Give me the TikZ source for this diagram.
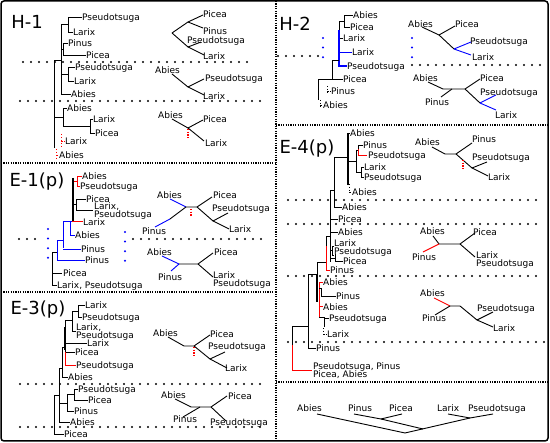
\documentclass[tikz,border=0pt]{standalone}
\usepackage{fontspec}
\setmainfont{DejaVu Sans}
\begin{document}
\begin{tikzpicture}[x=1pt,y=-1pt,
  lab/.style={anchor=base west, inner sep=0pt, font=\fontsize{9}{10}\selectfont, yshift=-3.2pt},
  ttl/.style={anchor=center, inner sep=0pt, font=\fontsize{18}{20}\selectfont},
  br/.style={line width=0.9pt},
  bb/.style={line width=0.9pt, blue},
  rr/.style={line width=0.9pt, red},
  kdash/.style={line width=0.9pt, dash pattern=on 1.5pt off 1.5pt},
  rdash/.style={line width=0.9pt, red, dash pattern=on 1.5pt off 1.5pt},
  rdot/.style={line width=1.3pt, red, dash pattern=on 1.5pt off 1.2pt},
  dense/.style={line width=1.4pt, dash pattern=on 1.2pt off 1.2pt},
  sparse/.style={line width=2.3pt, line cap=round, dash pattern=on 0pt off 8pt},
  bdots/.style={line width=2.3pt, line cap=round, blue, dash pattern=on 0pt off 9.6pt}]
\useasboundingbox (0,0) rectangle (550,443);
% frame
\draw[line width=1.5pt, rounded corners=3pt] (1,1) rectangle (548,441);
\draw[dense] (276,1) -- (276,441);
\draw[dense] (1,163) -- (276,163);
\draw[dense] (1,292) -- (276,292);
\draw[dense] (276,125) -- (548,125);
\draw[dense] (276,382) -- (548,382);

% ================= H-1 =================
\node[ttl] (tH1) at (27,22) {H-1};
\node[lab] (a01) at (82,17) {Pseudotsuga};
\node[lab] (a02) at (73,32) {Larix};
\node[lab] (a03) at (68,43) {Pinus};
\node[lab] (a04) at (86,55) {Picea};
\node[lab] (a05) at (75,67) {Pseudotsuga};
\node[lab] (a06) at (74,81) {Larix};
\node[lab] (a07) at (71,94) {Abies};
\node[lab] (a08) at (67,108) {Abies};
\node[lab] (a09) at (93,119) {Larix};
\node[lab] (a10) at (95,133) {Picea};
\node[lab] (a11) at (65,141) {Larix};
\node[lab] (a12) at (59,155) {Abies};
\draw[br] (82,17) -- (68,17) -- (68,32) -- (73,32);
\draw[br] (68,43) -- (63,43) -- (63,55) -- (86,55);
\draw[br] (68,24.5) -- (61,24.5) -- (61,94) -- (71,94);
\draw[br] (63,49) -- (61,49);
\draw[br] (75,67) -- (68,67) -- (68,81) -- (74,81);
\draw[br] (68,74) -- (61,74);
\draw[br] (61,60) -- (54,60) -- (54,148);
\draw[br] (67,108) -- (63,108) -- (63,126) -- (90,126);
\draw[br] (93,119) -- (90,119) -- (90,133) -- (95,133);
\draw[br] (63,117) -- (54,117);
\draw[rdash] (61,134) -- (61,147);
\draw[rdash] (61,141) -- (65,141);
\draw[rdash] (56,149) -- (56,161);
\draw[rdash] (56,155) -- (59,155);
\draw[sparse] (23,62) -- (250,62);
\draw[sparse] (20,101) -- (266,101);
% unrooted H-1
\node[lab] (a13) at (203,14) {Picea};
\node[lab] (a14) at (203,31) {Pinus};
\node[lab] (a15) at (187,40) {Pseudotsuga};
\node[lab] (a16) at (203,56) {Larix};
\draw[br] (172,33) -- (188,22) -- (203,15);
\draw[br] (188,22) -- (203,28);
\draw[br] (172,33) -- (188,47) -- (201,42);
\draw[br] (188,47) -- (204,55);
\node[lab] (a17) at (155,70) {Abies};
\node[lab] (a18) at (205,78) {Pseudotsuga};
\node[lab] (a19) at (203,96) {Larix};
\draw[br] (172,74) -- (188,87) -- (204,79);
\draw[br] (188,87) -- (204,95);
\node[lab] (a20) at (158,115) {Abies};
\node[lab] (a21) at (203,119) {Picea};
\node[lab] (a22) at (205,143) {Larix};
\draw[br] (172,119) -- (188,128) -- (203,120);
\draw[br] (188,128) -- (204,141);
\draw[rdot] (188,129) -- (188,138);

% ================= E-1 =================
\node[ttl] (tE1) at (37,182) {E-1(p)};
\node[lab] (b01) at (82,176) {Abies};
\node[lab] (b02) at (80,186) {Pseudotsuga};
\node[lab] (b03) at (86,199) {Picea};
\node[lab] (b04) at (94,206.5) {Larix,};
\node[lab] (b05) at (94,214.5) {Pseudotsuga};
\node[lab] (b06) at (83,222) {Larix};
\node[lab] (b07) at (75,235) {Abies};
\node[lab] (b08) at (81,249) {Pinus};
\node[lab] (b09) at (85,260) {Pinus};
\node[lab] (b10) at (63,273) {Picea};
\node[lab] (b11) at (57,285) {Larix, Pseudotsuga};
\draw[rr] (82,176) -- (77,176) -- (77,186) -- (80,186);
\draw[rr] (77,181) -- (73,181);
\draw[line width=1.4pt] (73,178) -- (73,221);
\draw[br] (86,199) -- (76,199) -- (76,210) -- (93,210);
\draw[br] (76,204) -- (73,204);
\draw[bb] (63,248) -- (63,221) -- (72,221);
\draw[bb] (70,221) -- (70,235) -- (75,235);
\draw[rr] (72,221) -- (83,221);
\draw[bb] (63,249) -- (81,249);
\draw[bb] (63,240) -- (57,240) -- (57,260) -- (85,260);
\draw[br] (57,252) -- (52,252) -- (52,285) -- (57,285);
\draw[br] (52,273) -- (62,273);
\draw[bdots] (48,229) -- (48,259);
\draw[bdots] (125,232) -- (125,261);
\draw[sparse] (19,239) -- (42,239);
\draw[sparse] (133,239) -- (266,239);
% unrooted E-1
\node[lab] (b12) at (157,195) {Abies};
\node[lab] (b13) at (142,231) {Pinus};
\node[lab] (b14) at (213,195) {Picea};
\node[lab] (b15) at (212,208) {Pseudotsuga};
\node[lab] (b16) at (229,229) {Larix};
\draw[bb] (170,199) -- (186,207);
\draw[bb] (155,227) -- (170,219);
\draw[br] (170,219) -- (186,207) -- (197,207) -- (212,197);
\draw[br] (197,207) -- (213,221) -- (228,213);
\draw[br] (213,221) -- (229,229);
\draw[rdot] (191,209) -- (191,217);
\node[lab] (b17) at (147,252) {Abies};
\node[lab] (b18) at (158,277) {Pinus};
\node[lab] (b19) at (214,252) {Picea};
\node[lab] (b20) at (213,275) {Larix};
\node[lab] (b21) at (213,283) {Pseudotsuga};
\draw[bb] (162,256) -- (179,264);
\draw[bb] (171,271) -- (179,264);
\draw[br] (179,264) -- (198,264) -- (213,253);
\draw[br] (198,264) -- (213,277);

% ================= E-3 =================
\node[ttl] (tE3) at (38,310) {E-3(p)};
\node[lab] (c01) at (85,305) {Larix};
\node[lab] (c02) at (82,317) {Pseudotsuga};
\node[lab] (c03) at (76,327) {Larix,};
\node[lab] (c04) at (76,335) {Pseudotsuga};
\node[lab] (c05) at (87,343) {Larix};
\node[lab] (c06) at (75,352) {Picea};
\node[lab] (c07) at (76,365) {Pseudotsuga};
\node[lab] (c08) at (68,377) {Abies};
\node[lab] (c09) at (78,389) {Pseudotsuga};
\node[lab] (c10) at (88,400) {Picea};
\node[lab] (c11) at (74,411) {Pinus};
\node[lab] (c12) at (70,422) {Abies};
\node[lab] (c13) at (64,434) {Picea};
\draw[br] (85,305) -- (78,305) -- (78,317) -- (82,317);
\draw[br] (78,311) -- (72,311) -- (72,331) -- (76,331);
\draw[br] (72,320) -- (65,320) -- (65,352) -- (75,352);
\draw[line width=1.3pt] (65,327) -- (65,350);
\draw[br] (65,343) -- (87,343);
\draw[rr] (65,352) -- (65,365) -- (76,365);
\draw[br] (65,347) -- (62,347) -- (62,377) -- (68,377);
\draw[br] (62,368) -- (59,368) -- (59,422) -- (70,422);
\draw[br] (78,389) -- (74,389) -- (74,400) -- (88,400);
\draw[br] (74,394) -- (67,394) -- (67,411) -- (74,411);
\draw[br] (67,403) -- (59,403);
\draw[br] (59,395) -- (54,395) -- (54,434) -- (64,434);
\draw[sparse] (20,384) -- (266,384);
\draw[sparse] (20,427) -- (266,427);
% unrooted E-3
\node[lab] (c14) at (153,333) {Abies};
\node[lab] (c15) at (210,334) {Picea};
\node[lab] (c16) at (208,346) {Pseudotsuga};
\node[lab] (c17) at (225,368) {Larix};
\draw[br] (168,337) -- (184,346) -- (194,346) -- (210,335);
\draw[br] (194,346) -- (210,359) -- (225,352);
\draw[br] (210,359) -- (227,368);
\draw[rdot] (194,347) -- (194,356);
\node[lab] (c18) at (161,395) {Abies};
\node[lab] (c19) at (173,419) {Pinus};
\node[lab] (c20) at (228,396) {Picea};
\node[lab] (c21) at (210,422) {Pseudotsuga};
\draw[br] (175,399) -- (191,407) -- (211,407) -- (227,396);
\draw[br] (183,417) -- (200,407);
\draw[br] (211,407) -- (226,421);

% ================= H-2 =================
\node[ttl] (tH2) at (295,24) {H-2};
\node[lab] (d01) at (353,15) {Abies};
\node[lab] (d02) at (350,27) {Picea};
\node[lab] (d03) at (343,38) {Larix};
\node[lab] (d04) at (352,52) {Larix};
\node[lab] (d05) at (347,66) {Pseudotsuga};
\node[lab] (d06) at (343,79) {Picea};
\node[lab] (d07) at (331,91) {Pinus};
\node[lab] (d08) at (323,105) {Abies};
\draw[br] (353,15) -- (344,15) -- (344,27) -- (350,27);
\draw[br] (344,21) -- (339,21) -- (339,38) -- (343,38);
\draw[blue, line width=1.3pt] (339,30) -- (339,66) -- (347,66);
\draw[bb] (339,52) -- (352,52);
\draw[br] (339,60) -- (332,60) -- (332,79);
\draw[br] (318,100) -- (318,79) -- (343,79);
\draw[kdash] (327,86) -- (327,95);
\draw[kdash] (327,91) -- (331,91);
\draw[kdash] (320,100) -- (320,109);
\draw[kdash] (320,105) -- (323,105);
\draw[bdots] (323,38) -- (323,66);
\draw[sparse] (278,56) -- (318,56);
\draw[bdots] (412,38) -- (412,58);
\draw[sparse] (412,65) -- (545,65);
% unrooted H-2
\node[lab] (d09) at (408,24) {Abies};
\node[lab] (d10) at (455,24) {Picea};
\node[lab] (d11) at (470,41) {Pseudotsuga};
\node[lab] (d12) at (472,57) {Larix};
\draw[br] (422,27) -- (439,35) -- (455,26);
\draw[br] (439,35) -- (454,49);
\draw[bb] (454,49) -- (471,42);
\draw[bb] (454,49) -- (471,55);
\node[lab] (d13) at (413,78) {Abies};
\node[lab] (d14) at (425,102) {Pinus};
\node[lab] (d15) at (480,78) {Picea};
\node[lab] (d16) at (480,92) {Pseudotsuga};
\node[lab] (d17) at (495,115) {Larix};
\draw[br] (428,82) -- (443,89) -- (465,89) -- (480,79);
\draw[br] (441,97) -- (452,89);
\draw[br] (465,89) -- (480,103);
\draw[bb] (480,103) -- (496,95);
\draw[bb] (480,103) -- (496,110);

% ================= E-4 =================
\node[ttl] (tE4) at (307,149) {E-4(p)};
\node[lab] (e01) at (350,133) {Abies};
\node[lab] (e02) at (363,145) {Pinus};
\node[lab] (e03) at (368,155) {Pseudotsuga};
\node[lab] (e04) at (364,167) {Larix};
\node[lab] (e05) at (364,177) {Pseudotsuga};
\node[lab] (e06) at (352,192) {Abies};
\node[lab] (e07) at (342,207) {Abies};
\node[lab] (e08) at (338,219) {Picea};
\node[lab] (e09) at (338,232) {Abies};
\node[lab] (e10) at (334,243) {Larix};
\node[lab] (e11) at (334,251) {Pseudotsuga};
\node[lab] (e12) at (343,261) {Picea};
\node[lab] (e13) at (330,270) {Pinus};
\node[lab] (e14) at (323,282) {Abies};
\node[lab] (e15) at (336,296) {Pinus};
\node[lab] (e16) at (323,307) {Abies};
\node[lab] (e17) at (329,318) {Pseudotsuga};
\node[lab] (e18) at (327,334) {Larix};
\node[lab] (e19) at (316,348) {Pinus};
\node[lab] (e20) at (313,366) {Pseudotsuga, Pinus};
\node[lab] (e21) at (313,374) {Picea, Abies};
\draw[br] (350,133) -- (348,133);
\draw[line width=1.3pt] (348,133) -- (348,185);
\draw[br] (363,145) -- (358,145) -- (358,149);
\draw[rr] (358,149) -- (358,155) -- (367,155);
\draw[br] (356,150) -- (358,150);
\draw[br] (356,150) -- (356,172) -- (361,172);
\draw[br] (348,161) -- (356,161);
\draw[br] (364,167) -- (361,167) -- (361,177) -- (364,177);
\draw[kdash] (349,184) -- (349,193);
\draw[kdash] (349,192) -- (352,192);
\draw[br] (348,157) -- (334,157) -- (334,207) -- (342,207);
\draw[br] (334,190) -- (330,190) -- (330,262);
\draw[br] (330,219) -- (338,219);
\draw[br] (330,232) -- (338,232);
\draw[br] (334,246) -- (332,246) -- (332,255) -- (334,255);
\draw[br] (330,250) -- (332,250);
\draw[br] (335,254) -- (335,261) -- (343,261);
\draw[br] (330,258) -- (335,258);
\draw[br] (330,236) -- (326,236) -- (326,246);
\draw[rr] (326,246) -- (326,270) -- (330,270);
\draw[br] (326,262) -- (317,262) -- (317,274) -- (308,274) -- (308,348) -- (316,348);
\draw[line width=1.3pt] (317,274) -- (317,302);
\draw[rr] (323,282) -- (319,282) -- (319,317);
\draw[br] (319,288) -- (321,288) -- (321,296) -- (336,296);
\draw[rr] (319,306) -- (323,306);
\draw[br] (319,317) -- (324,317) -- (324,327);
\draw[br] (324,318) -- (329,318);
\draw[kdash] (323,328) -- (323,337);
\draw[kdash] (323,334) -- (327,334);
\draw[br] (308,326) -- (292,326) -- (292,345);
\draw[rr] (292,345) -- (292,370) -- (312,370);
\draw[sparse] (288,200) -- (536,200);
\draw[sparse] (288,224) -- (536,224);
\draw[sparse] (288,276) -- (536,276);
\draw[sparse] (288,342) -- (544,342);
% unrooted E-4
\node[lab] (e22) at (415,142) {Abies};
\node[lab] (e23) at (472,139) {Pinus};
\node[lab] (e24) at (472,157) {Pseudotsuga};
\node[lab] (e25) at (488,177) {Larix};
\draw[br] (432,147) -- (445,154) -- (456,154) -- (472,143);
\draw[br] (456,154) -- (472,168) -- (487,162);
\draw[br] (472,168) -- (488,176);
\draw[rdot] (463,160) -- (463,169);
\node[lab] (e26) at (420,231) {Abies};
\node[lab] (e27) at (412,257) {Pinus};
\node[lab] (e28) at (473,232) {Picea};
\node[lab] (e29) at (476,255) {Larix};
\node[lab] (e30) at (476,263) {Pseudotsuga};
\draw[br] (433,236) -- (439,244) -- (460,244) -- (475,233);
\draw[rr] (423,252) -- (439,244);
\draw[br] (460,244) -- (475,257);
\node[lab] (e31) at (420,293) {Abies};
\node[lab] (e32) at (422,318) {Pinus};
\node[lab] (e33) at (477,308) {Pseudotsuga};
\node[lab] (e34) at (493,328) {Larix};
\draw[rr] (434,298) -- (450,306);
\draw[br] (435,315) -- (450,306) -- (460,306) -- (477,320) -- (493,312);
\draw[br] (477,320) -- (493,327);

% ================= bottom =================
\node[lab] (f01) at (297,408) {Abies};
\node[lab] (f02) at (348,408) {Pinus};
\node[lab] (f03) at (389,408) {Picea};
\node[lab] (f04) at (437,408) {Larix};
\node[lab] (f05) at (468,408) {Pseudotsuga};
\draw[br] (317,414) -- (405,433) -- (470,418);
\draw[br] (354,414) -- (381,419) -- (402,414);
\draw[br] (381,419) -- (423,429);
\draw[br] (448,414) -- (470,418) -- (493,414);
\end{tikzpicture}
\end{document}
